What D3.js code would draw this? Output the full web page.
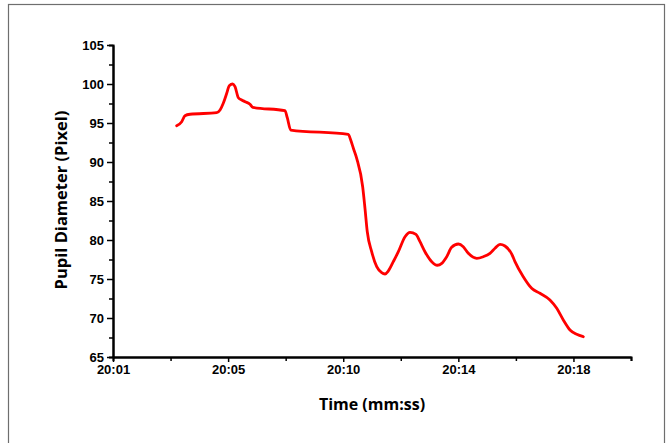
<!DOCTYPE html>
<html>
<head>
<meta charset="utf-8">
<script src="https://cdn.jsdelivr.net/npm/d3@7"></script>
<style>
  html, body { margin: 0; padding: 0; background: #fff; }
  svg { display: block; }
  .tick text { font-family: "Liberation Sans", Arial, sans-serif; font-weight: bold; font-size: 13px; fill: #000; }
  .axis-title { font-family: "Open Sans", "Noto Sans", sans-serif; font-weight: bold; fill: #000; }
</style>
</head>
<body>
<svg id="chart" width="671" height="443"></svg>
<script>
// Recording time on the x axis (in axis units), pupil diameter in pixels on y
const timePos = [0.553, 0.597, 0.625, 0.669, 0.901, 0.930, 0.958, 0.988, 1.010, 1.040,
  1.060, 1.089, 1.118, 1.147, 1.190, 1.214, 1.494, 1.514, 1.544, 2.044,
  2.065, 2.088, 2.117, 2.169, 2.189, 2.209, 2.247, 2.291, 2.334, 2.363,
  2.392, 2.435, 2.479, 2.537, 2.580, 2.632, 2.667, 2.710, 2.769, 2.817,
  2.856, 2.899, 2.942, 3.000, 3.043, 3.087, 3.160, 3.217, 3.275, 3.319,
  3.362, 3.405, 3.464, 3.492, 3.564, 3.637, 3.709, 3.796, 3.855, 3.912,
  3.970, 4.028, 4.086];
const pupilDiameter = [94.65, 95.17, 95.94, 96.12, 96.32, 96.67, 97.53, 98.81, 99.78, 100.0,
  99.65, 98.24, 97.95, 97.73, 97.40, 97.01, 96.58, 95.68, 94.10, 93.55,
  92.82, 91.76, 90.47, 86.83, 84.06, 81.06, 78.50, 76.58, 75.81, 75.64,
  76.03, 77.22, 78.50, 80.42, 80.99, 80.73, 79.78, 78.50, 77.22, 76.76,
  77.01, 77.86, 79.06, 79.49, 79.14, 78.29, 77.65, 77.86, 78.29, 78.94,
  79.45, 79.23, 78.20, 77.22, 75.29, 73.81, 73.17, 72.31, 71.24, 69.74,
  68.46, 67.91, 67.60];

// Axis ticks
const xTickValues = [0, 1, 2, 3, 4];
const xTickLabels = ["20:01", "20:05", "20:10", "20:14", "20:18"];
const xMinorTicks = [0.5, 1.5, 2.5, 3.5, 4.5];
const yTickValues = [65, 70, 75, 80, 85, 90, 95, 100, 105];
const yMinorTicks = [67.5, 72.5, 77.5, 82.5, 87.5, 92.5, 97.5, 102.5];

const svg = d3.select("#chart");

// outer frame
svg.append("rect")
  .attr("x", 8.5).attr("y", 4.5)
  .attr("width", 656).attr("height", 460)
  .attr("fill", "none").attr("stroke", "#6e6e6e").attr("stroke-width", 1.2);

const plotLeft = 113, plotRight = 631, plotTop = 45, plotBottom = 357;

const x = d3.scaleLinear().domain([0, 4.5]).range([plotLeft, plotRight]);
const y = d3.scaleLinear().domain([65, 105]).range([plotBottom, plotTop]);

function styleAxis(g) {
  g.select(".domain").attr("stroke", "#000").attr("stroke-width", 2);
  g.selectAll(".tick line").attr("stroke", "#000").attr("stroke-width", 1.5);
}

// x axis: minor then major ticks
svg.append("g")
  .attr("transform", `translate(0,${plotBottom})`)
  .call(d3.axisBottom(x).tickValues(xMinorTicks).tickSize(4).tickFormat(""))
  .call(styleAxis);
svg.append("g")
  .attr("transform", `translate(0,${plotBottom})`)
  .call(d3.axisBottom(x).tickValues(xTickValues).tickSize(5).tickSizeOuter(0)
    .tickPadding(3).tickFormat((d, i) => xTickLabels[i]))
  .call(styleAxis);

// y axis: minor then major ticks
svg.append("g")
  .attr("transform", `translate(${plotLeft},0)`)
  .call(d3.axisLeft(y).tickValues(yMinorTicks).tickSize(4).tickFormat(""))
  .call(styleAxis);
svg.append("g")
  .attr("transform", `translate(${plotLeft},0)`)
  .call(d3.axisLeft(y).tickValues(yTickValues).tickSize(6).tickSizeOuter(0)
    .tickPadding(3).tickFormat(d3.format("d")))
  .call(styleAxis);

// axis titles
svg.append("text").attr("class", "axis-title")
  .attr("x", (plotLeft + plotRight) / 2).attr("y", 410)
  .attr("text-anchor", "middle")
  .style("font-size", "16px")
  .text("Time (mm:ss)");
svg.append("text").attr("class", "axis-title")
  .attr("transform", `translate(67,${(plotTop + plotBottom) / 2 - 1}) rotate(-90)`)
  .attr("text-anchor", "middle")
  .style("font-size", "16.5px")
  .text("Pupil Diameter (Pixel)");

// the pupil diameter trace
const data = timePos.map((t, i) => [t, pupilDiameter[i]]);
svg.append("path")
  .datum(data)
  .attr("fill", "none")
  .attr("stroke", "#ff0000")
  .attr("stroke-width", 2.8)
  .attr("stroke-linejoin", "round")
  .attr("stroke-linecap", "round")
  .attr("d", d3.line().x(d => x(d[0])).y(d => y(d[1])).curve(d3.curveMonotoneX));
</script>
</body>
</html>
